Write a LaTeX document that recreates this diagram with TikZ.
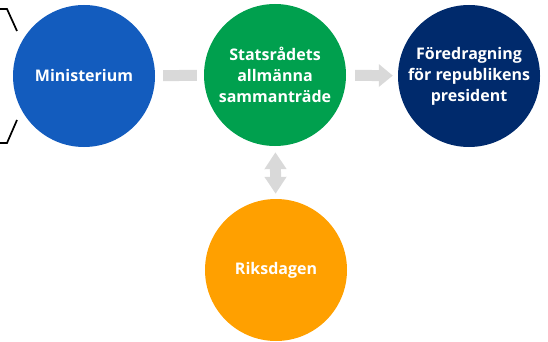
\documentclass[tikz,border=0pt]{standalone}
\usepackage{fontspec}
\setmainfont{Open Sans}
\usepackage{tikz}
\usetikzlibrary{arrows.meta}
\definecolor{minblue}{RGB}{19,92,190}
\definecolor{statgreen}{RGB}{0,160,78}
\definecolor{presnavy}{RGB}{0,42,108}
\definecolor{riksorange}{RGB}{255,160,0}
\definecolor{arrowgray}{RGB}{217,217,217}
\tikzset{%
  every step/.style={
    circle,
    minimum size=142pt,
    inner sep=0pt,
    text=white,
    align=center,
    font=\bfseries\fontsize{16}{21}\selectfont
  },
  gray bar/.style={
    draw=arrowgray,
    line width=11pt
  },
}

\begin{document}
\begin{tikzpicture}[x=1pt,y=-1pt]
    \useasboundingbox (0,0) rectangle (548,342);
    \node[every step,fill=minblue](min) at (84,76){Ministerium};
    \node[every step,fill=statgreen](stat) at (275,75){Statsrådets\\allmänna\\sammanträde};
    \node[every step,fill=presnavy](pres) at (469,76){Föredragning\\för republikens\\president};
    \node[every step,fill=riksorange](riks) at (276,270){Riksdagen};
    % connectors
    \draw[gray bar,shorten <=8pt,shorten >=7pt] (min) -- (stat);
    \draw[gray bar,-{Triangle[length=14pt,width=22pt]},shorten <=9pt,shorten >=5pt] (stat) -- (pres);
    \draw[gray bar,{Triangle[length=17pt,width=21pt]}-{Triangle[length=17pt,width=21pt]},shorten <=6pt,shorten >=5pt] (stat) -- (riks);
    % bracket
    \draw[line width=1.7pt] (0,9) -- (7,9) -- (17,31);
    \draw[line width=1.7pt] (0,143) -- (7,143) -- (17,120);
\end{tikzpicture}
\end{document}
